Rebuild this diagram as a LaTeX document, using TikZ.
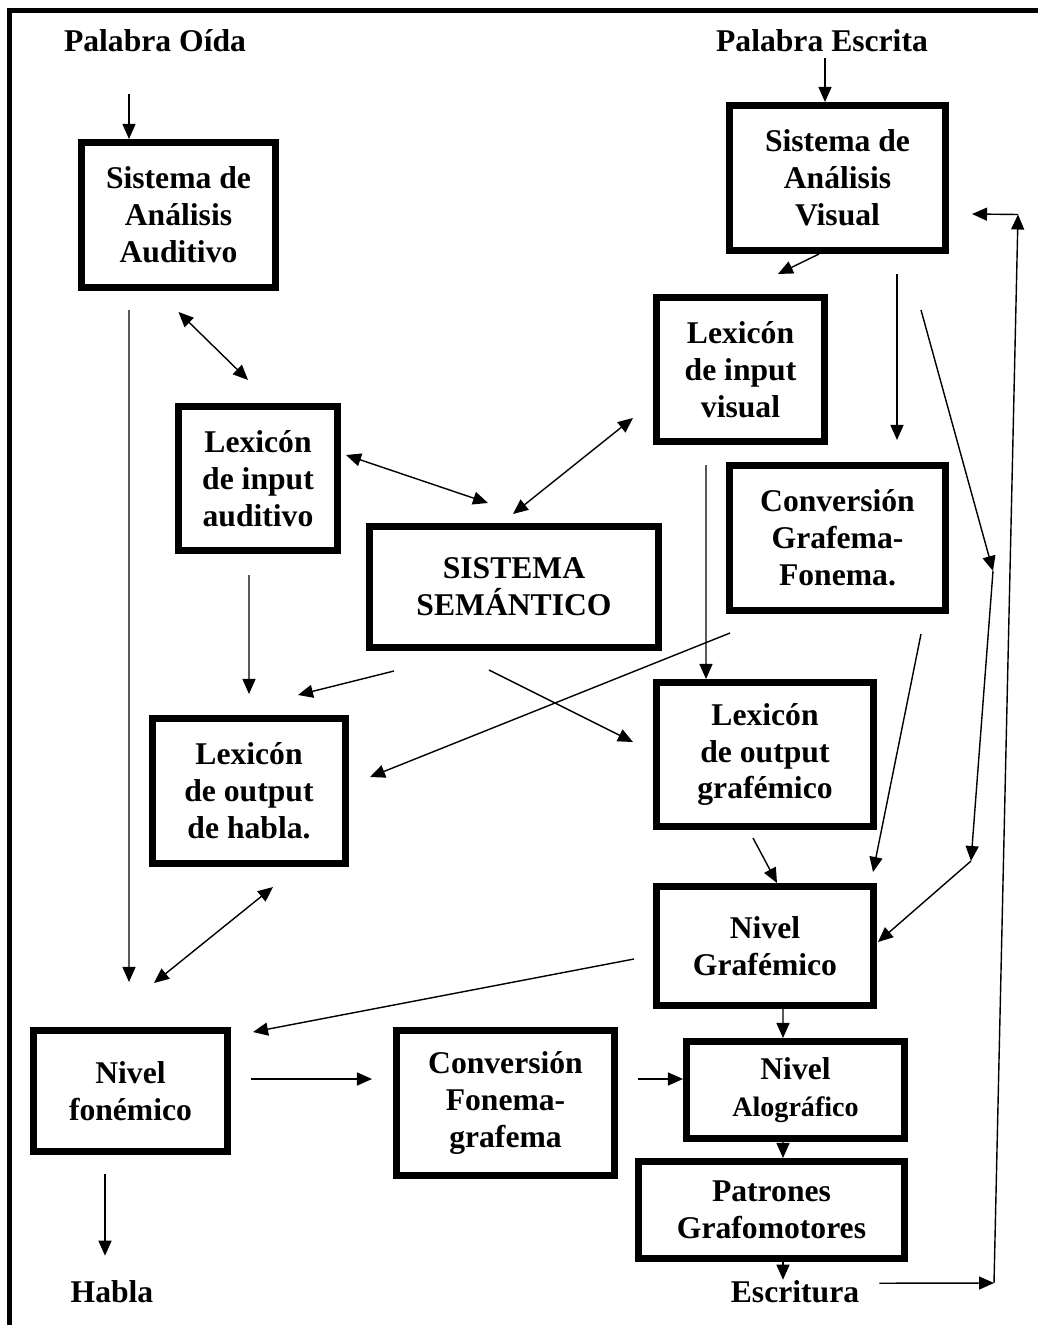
\documentclass[tikz,border=0pt]{standalone}
\usepackage{fontspec}
\setmainfont{Liberation Serif}
\usepackage{tikz}
\usetikzlibrary{arrows.meta}
\tikzset{
    modulo/.style={draw, line width=4pt, align=center, inner sep=0pt,
        font=\bfseries\fontsize{18}{21}\selectfont},
    etiqueta/.style={inner sep=0pt, anchor=base, font=\bfseries\fontsize{18}{21}\selectfont},
    flecha/.style={line width=0.8pt, -{Triangle[length=0.3cm,width=0.26cm]}},
    doble flecha/.style={line width=0.8pt,
        {Triangle[length=0.3cm,width=0.26cm]}-{Triangle[length=0.3cm,width=0.26cm]}},
}

\begin{document}
\begin{tikzpicture}
\useasboundingbox (0,0) rectangle (20.74,-26.5);
\draw[line width=2.3pt] (0.19,-27) |- (21,-0.21);
%\draw[step=1cm,lightgray,very thin] (0,0) grid (20.74,-26.5);
\node[etiqueta] (oida) at (3.10,-1.04) {Palabra Oída};
\node[etiqueta] (escrita) at (16.44,-1.04) {Palabra Escrita};
\node[etiqueta] (habla) at (2.24,-26.04) {Habla};
\node[etiqueta] (escritura) at (15.90,-26.04) {Escritura};
\node[modulo, minimum width=3.88cm, minimum height=2.90cm] (aud) at (3.57,-4.30) {Sistema de\\Análisis\\Auditivo};
\node[modulo, minimum width=4.32cm, minimum height=2.90cm] (vis) at (16.75,-3.56) {Sistema de\\Análisis\\Visual};
\node[modulo, minimum width=3.36cm, minimum height=2.88cm] (inv) at (14.81,-7.39) {Lexicón\\de input\\visual};
\node[modulo, minimum width=3.18cm, minimum height=2.88cm] (ina) at (5.16,-9.57) {Lexicón\\de input\\auditivo};
\node[modulo, minimum width=5.78cm, minimum height=2.42cm] (sem) at (10.28,-11.74) {SISTEMA\\SEMÁNTICO};
\node[modulo, minimum width=4.32cm, minimum height=2.90cm] (cgf) at (16.75,-10.76) {Conversión\\Grafema-\\Fonema.};
\node[modulo, minimum width=3.86cm, minimum height=2.90cm] (ohab) at (4.98,-15.82) {Lexicón\\de output\\de habla.};
\node[modulo, minimum width=4.34cm, minimum height=2.88cm] (ogra) at (15.30,-15.09) {Lexicón\\de output\\grafémico};
\node[modulo, minimum width=4.34cm, minimum height=2.38cm] (ngra) at (15.30,-18.92) {Nivel\\Grafémico};
\node[modulo, minimum width=3.88cm, minimum height=2.42cm] (nfon) at (2.61,-21.82) {Nivel\\fonémico};
\node[modulo, minimum width=4.36cm, minimum height=2.90cm] (cfg) at (10.11,-22.06) {Conversión\\Fonema-\\grafema};
\node[modulo, minimum width=4.36cm, minimum height=1.94cm] (nalo) at (15.91,-21.80) {Nivel\\{\fontsize{16}{21}\selectfont Alográfico}};
\node[modulo, minimum width=5.32cm, minimum height=1.94cm] (pat) at (15.43,-24.20) {Patrones\\Grafomotores};
% entradas
\draw[flecha] ([xshift=-0.99cm,yshift=0.9cm]aud.north) -- ([xshift=-0.99cm]aud.north);
\draw[flecha] ([xshift=-0.25cm,yshift=0.88cm]vis.north) -- ([xshift=-0.25cm]vis.north);
% ruta auditiva
\draw[flecha] ([xshift=-0.99cm,yshift=-0.38cm]aud.south) -- ([xshift=-0.03cm,yshift=0.9cm]nfon.north);
\draw[doble flecha] ([yshift=-0.42cm]aud.south) -- ([xshift=-0.2cm,yshift=0.46cm]ina.north);
\draw[doble flecha] ([xshift=0.1cm,yshift=0.47cm]ina.east) -- ([xshift=-0.52cm,yshift=0.4cm]sem.north);
\draw[flecha] ([xshift=-0.18cm,yshift=-0.42cm]ina.south) -- ([yshift=0.42cm]ohab.north);
\draw[flecha] ([xshift=-2.4cm,yshift=-0.4cm]sem.south) -- ([xshift=0.98cm,yshift=0.4cm]ohab.north);
\draw[doble flecha] ([xshift=0.48cm,yshift=-0.4cm]ohab.south) -- ([xshift=0.47cm,yshift=0.88cm]nfon.north);
% ruta visual
\draw[doble flecha] ([xshift=-0.02cm,yshift=0.18cm]sem.north) -- ([xshift=-0.4cm,yshift=-0.97cm]inv.west);
\draw[flecha] ([xshift=-0.37cm]vis.south) -- ([xshift=0.75cm,yshift=0.4cm]inv.north);
\draw[flecha] ([xshift=1.19cm,yshift=-0.4cm]vis.south) -- ([xshift=1.19cm,yshift=0.44cm]cgf.north);
\coordinate (k1) at (19.86,-11.42);
\coordinate (k2) at (19.42,-17.22);
\draw[flecha] ([xshift=1.67cm,yshift=-1.12cm]vis.south) -- (k1);
\draw[flecha] (k1) -- (k2);
\draw[flecha] (k2) -- ([xshift=0.02cm,yshift=0.08cm]ngra.east);
\draw[flecha] ([xshift=-0.69cm,yshift=-0.4cm]inv.south) -- ([xshift=-1.18cm]ogra.north);
\draw[flecha] ([xshift=-2.15cm,yshift=-0.38cm]cgf.south) -- ([xshift=0.42cm,yshift=0.28cm]ohab.east);
\draw[flecha] ([xshift=1.67cm,yshift=-0.4cm]cgf.south) -- ([xshift=-0.08cm,yshift=0.22cm]ngra.north east);
\draw[flecha] ([xshift=-0.5cm,yshift=-0.38cm]sem.south) -- ([xshift=-0.4cm,yshift=0.25cm]ogra.west);
\draw[flecha] ([xshift=-0.24cm,yshift=-0.16cm]ogra.south) -- ([xshift=0.24cm]ngra.north);
% salidas
\draw[flecha] ([xshift=-0.38cm,yshift=-0.26cm]ngra.west) -- ([xshift=0.44cm,yshift=-0.1cm]nfon.north east);
\draw[flecha] ([xshift=0.36cm]ngra.south) -- ([xshift=-0.25cm]nalo.north);
\draw[flecha] ([xshift=0.4cm,yshift=0.24cm]nfon.east) -- ([xshift=-0.42cm,yshift=0.48cm]cfg.west);
\draw[flecha] ([xshift=0.4cm,yshift=0.48cm]cfg.east) -- ([yshift=0.22cm]nalo.west);
\draw[flecha] ([xshift=-0.25cm]nalo.south) -- ([xshift=0.23cm]pat.north);
\draw[flecha] ([xshift=0.23cm]pat.south) -- ([xshift=-0.24cm]escritura.north);
\draw[flecha] ([xshift=-0.51cm,yshift=-0.38cm]nfon.south) -- ([xshift=-0.14cm,yshift=0.48cm]habla.north);
\coordinate (k3) at (19.88,-25.66);
\coordinate (k4) at (20.36,-4.29);
\draw[flecha] ([xshift=0.4cm,yshift=0.16cm]escritura.east) -- (k3);
\draw[flecha] (k3) -- (k4);
\draw[flecha] (k4) -- ([xshift=0.46cm,yshift=-0.72cm]vis.east);
\end{tikzpicture}
\end{document}
